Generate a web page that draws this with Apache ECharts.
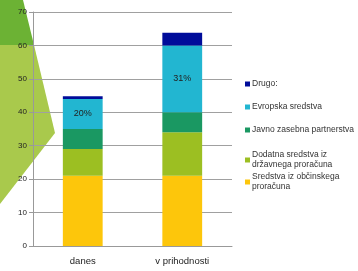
<html>
<head>
<script type="text/javascript" src="https://cdn.jsdelivr.net/npm/echarts@6/dist/echarts.min.js"></script>
<style type="text/css">
	body { margin:0; background:#fff; }
</style>
</head>
<body>
<div id="chart" style="width: 358px; height: 271px;"></div>
<script type="text/javascript">
// data
var categories = ['danes', 'v prihodnosti'];
var seriesNames = ['Sredstva iz občinskega\nproračuna', 'Dodatna sredstva iz\ndržavnega proračuna', 'Javno zasebna partnerstva', 'Evropska sredstva', 'Drugo:'];
var obcinska = [21, 21];
var drzavna = [8, 13];
var jzp = [6, 6];
var evropska = [9, 20];
var drugo = [0.8, 3.8];
var evropskaLabels = ['20%', '31%'];
var yTicks = [0, 70, 10];

var colors = ['#fdc60b', '#9cbf22', '#1a9862', '#22b6d1', '#000c9a'];
var values = [obcinska, drzavna, jzp, evropska, drugo];
// legend rows, top of each entry (same order as seriesNames)
var legendTops = [172, 150, 125, 102, 79];

var series = [];
var legends = [];
for (let i = 0; i < seriesNames.length; i++) {
	let s = {
		name: seriesNames[i],
		type: 'bar',
		stack: 'total',
		barWidth: '40%',
		itemStyle: { color: colors[i] },
		data: values[i]
	};
	if (i == 3) {
		s.label = {
			show: true,
			position: 'inside',
			color: '#222',
			fontSize: 9,
			fontFamily: 'Liberation Sans',
			formatter: function(p) { return evropskaLabels[p.dataIndex]; }
		};
	}
	series.push(s);
	legends.push({
		orient: 'vertical',
		left: 245,
		top: legendTops[i],
		padding: 0,
		itemWidth: 5,
		itemHeight: 5,
		icon: 'rect',
		data: [seriesNames[i]],
		textStyle: { fontSize: 8.5, color: '#333', fontFamily: 'Liberation Sans', lineHeight: 10, padding: [0, 0, 0, -3] }
	});
}

var option = {
	animation: false,
	graphic: [
		{ type: 'polygon', z: -10, shape: { points: [[0,0],[23,0],[34,45],[0,45]] }, style: { fill: '#6cb234' } },
		{ type: 'polygon', z: -10, shape: { points: [[0,45],[34,45],[55,133],[0,204]] }, style: { fill: '#a9c94c' } }
	],
	grid: { left: 33, right: 126, top: 12, bottom: 25 },
	legend: legends,
	xAxis: {
		type: 'category',
		data: categories,
		axisLine: { lineStyle: { color: '#999' } },
		axisTick: { lineStyle: { color: '#999' } },
		axisLabel: { color: '#222', fontSize: 9.5, fontFamily: 'Liberation Sans', margin: 10 }
	},
	yAxis: {
		type: 'value',
		min: yTicks[0],
		max: yTicks[1],
		interval: yTicks[2],
		axisLine: { show: true, lineStyle: { color: '#999' } },
		axisTick: { show: true, length: 4, lineStyle: { color: '#999' } },
		splitLine: { lineStyle: { color: '#a0a0a0' } },
		axisLabel: { color: '#222', fontSize: 8, fontFamily: 'Liberation Sans', margin: 6 }
	},
	series: series
};

var myChart = echarts.init(document.getElementById('chart'));
myChart.setOption(option);
</script>
</body>
</html>
